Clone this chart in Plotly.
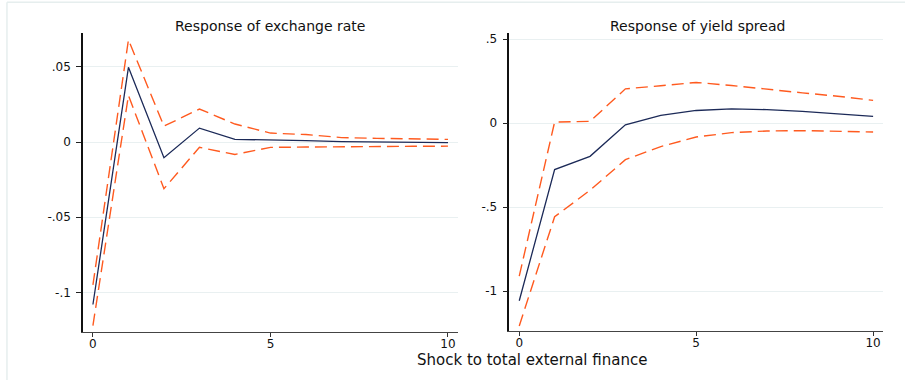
import plotly.graph_objects as go

steps = list(range(11))

# Response of exchange rate
er_irf = [-0.108, 0.0497, -0.0104, 0.0093, 0.0018, 0.0015, 0.0010, 0.0003, 0.0000, -0.0002, -0.0003]
er_upper = [-0.095, 0.068, 0.0106, 0.022, 0.012, 0.006, 0.005, 0.003, 0.0025, 0.0022, 0.0018]
er_lower = [-0.122, 0.031, -0.031, -0.0035, -0.0082, -0.0035, -0.0033, -0.003, -0.0029, -0.0028, -0.0027]

# Response of yield spread
ys_irf = [-1.058, -0.277, -0.198, -0.010, 0.046, 0.075, 0.085, 0.080, 0.070, 0.057, 0.040]
ys_upper = [-0.911, 0.006, 0.010, 0.204, 0.222, 0.242, 0.224, 0.200, 0.180, 0.160, 0.135]
ys_lower = [-1.208, -0.558, -0.400, -0.218, -0.140, -0.083, -0.057, -0.047, -0.045, -0.048, -0.053]

x_ticks = [0, 5, 10]
er_yticks = [-0.1, -0.05, 0, 0.05]
er_ylabels = ["-.1", "-.05", "0", ".05"]
ys_yticks = [-1, -0.5, 0, 0.5]
ys_ylabels = ["-1", "-.5", "0", ".5"]

titles = ["Response of exchange rate", "Response of yield spread"]
xtitle = "Shock to total external finance"

NAVY = "#1c2a58"
ORANGE = "#ff5a1f"
GRID = "#e9f0f1"
FONT = "DejaVu Sans"

fig = go.Figure()

def add_panel(k, irf, up, lo):
    xa = "x" if k == 1 else "x2"
    ya = "y" if k == 1 else "y2"
    for s in (up, lo):
        fig.add_trace(go.Scatter(x=steps, y=s, mode="lines", xaxis=xa, yaxis=ya,
                                 line=dict(color=ORANGE, width=1.4, dash="12px,6px"),
                                 showlegend=False, hoverinfo="skip"))
    fig.add_trace(go.Scatter(x=steps, y=irf, mode="lines", xaxis=xa, yaxis=ya,
                             line=dict(color=NAVY, width=1.3),
                             showlegend=False))

add_panel(1, er_irf, er_upper, er_lower)
add_panel(2, ys_irf, ys_upper, ys_lower)

xcommon = dict(range=[-0.28, 10.28], tickvals=x_ticks, ticktext=[str(v) for v in x_ticks],
               ticks="outside", ticklen=4, tickcolor="#333", showgrid=False, zeroline=False,
               showline=True, linecolor="#444", linewidth=1.2, ticklabelstandoff=-3,
               tickfont=dict(family=FONT, size=12, color="#111"))
ycommon = dict(ticks="outside", ticklen=5, tickcolor="#222", showgrid=True, gridcolor=GRID,
               gridwidth=1, zeroline=False, showline=True, linecolor="#111", linewidth=1.5,
               tickfont=dict(family=FONT, size=12, color="#111"), ticklabelstandoff=3)

fig.update_layout(
    width=905, height=380,
    margin=dict(l=0, r=0, t=0, b=0),
    paper_bgcolor="white", plot_bgcolor="white",
    xaxis=dict(domain=[0.0917, 0.506], anchor="y", **xcommon),
    yaxis=dict(domain=[0.1274, 0.913], anchor="x", range=[-0.126, 0.0725],
               tickvals=er_yticks, ticktext=er_ylabels, **ycommon),
    xaxis2=dict(domain=[0.5628, 0.9757], anchor="y2", **xcommon),
    yaxis2=dict(domain=[0.129, 0.913], anchor="x2", range=[-1.238, 0.536],
                tickvals=ys_yticks, ticktext=ys_ylabels, **ycommon),
    showlegend=False,
)

# outer frame (top and left light lines)
fig.add_shape(type="line", xref="paper", yref="paper", x0=0.0077, x1=1.0, y0=0.994, y1=0.994,
              line=dict(color="#e6eeee", width=1.5))
fig.add_shape(type="line", xref="paper", yref="paper", x0=0.0077, x1=0.0077, y0=0.0, y1=0.994,
              line=dict(color="#e6eeee", width=1.5))

fig.add_annotation(text=titles[0], xref="paper", yref="paper", x=270 / 905, y=1 - 26 / 380,
                   showarrow=False, xanchor="center", yanchor="middle",
                   font=dict(family=FONT, size=14, color="#111"))
fig.add_annotation(text=titles[1], xref="paper", yref="paper", x=697 / 905, y=1 - 26 / 380,
                   showarrow=False, xanchor="center", yanchor="middle",
                   font=dict(family=FONT, size=14, color="#111"))
fig.add_annotation(text=xtitle, xref="paper", yref="paper", x=532 / 905, y=1 - 360 / 380,
                   showarrow=False, xanchor="center", yanchor="middle",
                   font=dict(family=FONT, size=15, color="#111"))

fig.write_html("out.html", config={"displayModeBar": False},
               post_script="document.body.style.margin='0px';document.body.style.overflow='hidden';")
